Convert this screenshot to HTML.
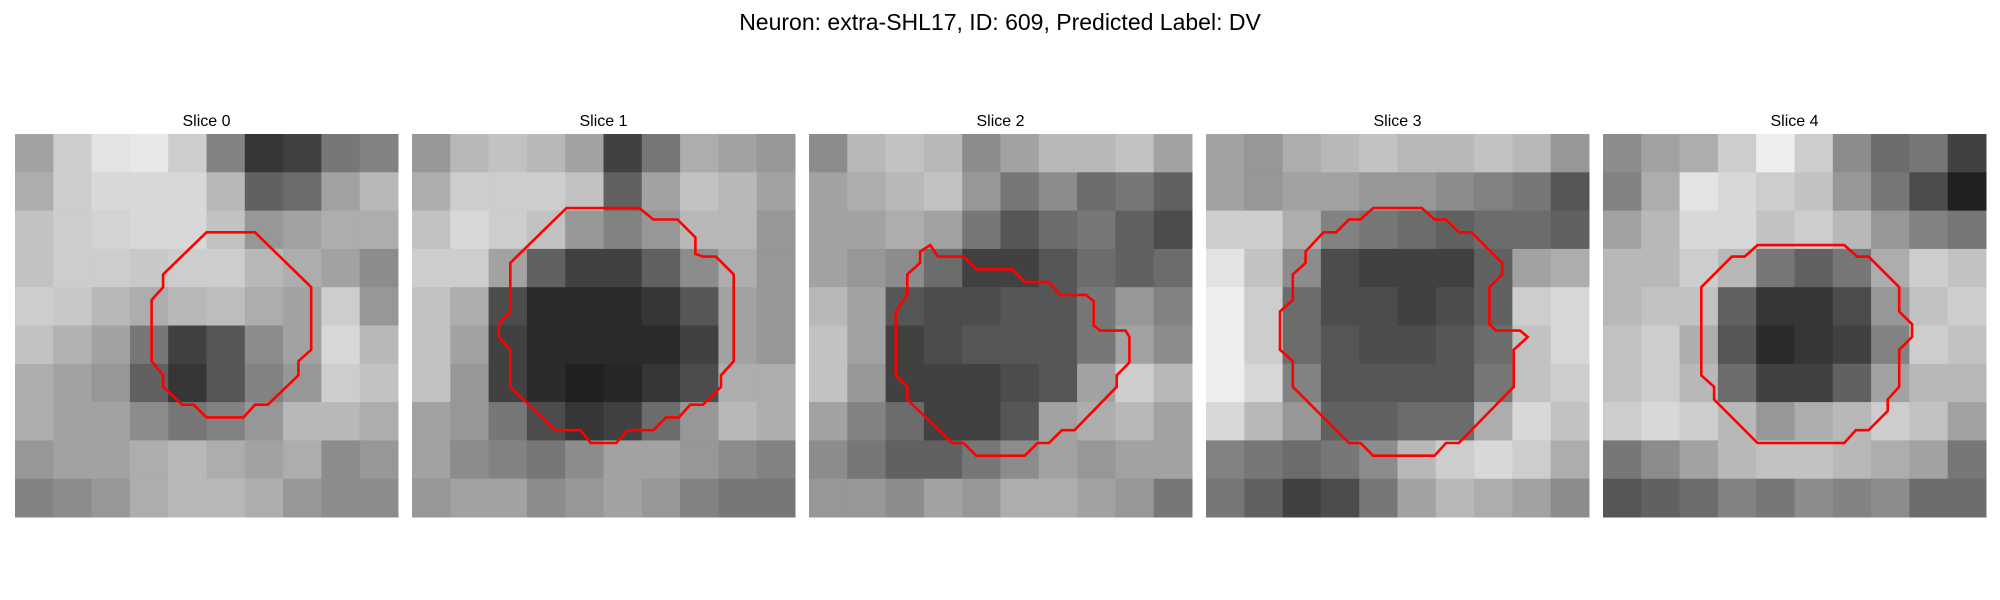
<!DOCTYPE html>
<html><head><meta charset="utf-8"><style>
html,body{margin:0;padding:0;background:#fff;width:2000px;height:600px;overflow:hidden}
svg{display:block;font-family:"Liberation Sans","DejaVu Sans",sans-serif}
</style></head><body>
<svg id="fig" width="2000" height="600" viewBox="0 0 2000 600">
<text x="1000" y="30" text-anchor="middle" font-size="23" fill="#000">Neuron: extra-SHL17, ID: 609, Predicted Label: DV</text>
</svg>
<script>
const sliceLabels = ["Slice 0","Slice 1","Slice 2","Slice 3","Slice 4"];
// coarse intensity grids (10x10 blocks, each 3x3 image pixels), 0=black 255=white
const slice0 = [
[150,190,210,215,190,120,50,60,110,120],[160,190,200,200,200,170,90,100,150,170],
[180,190,195,200,200,180,140,150,160,160],[180,190,190,185,190,190,170,160,150,130],
[190,185,170,160,170,175,160,150,190,140],[180,165,150,110,60,80,130,150,200,170],
[160,150,140,90,50,80,120,140,190,180],[160,150,150,130,110,120,140,170,170,160],
[140,150,150,160,170,160,150,160,130,140],[120,130,140,160,170,170,160,140,130,130]];
const slice1 = [
[140,170,180,170,150,60,110,160,150,140],[160,190,190,190,180,90,150,180,170,150],
[180,200,190,180,140,120,140,170,170,140],[190,190,150,90,60,60,90,130,160,140],
[180,160,70,40,40,40,50,80,150,140],[180,150,60,40,40,40,40,60,150,140],
[180,140,60,40,30,35,50,70,160,160],[150,140,110,70,50,60,100,140,170,160],
[150,130,120,110,130,150,150,140,130,120],[140,150,150,130,140,150,140,120,110,110]];
const slice2 = [
[130,170,180,170,130,150,170,170,180,150],[150,160,170,180,140,110,130,100,110,90],
[150,150,160,150,110,80,100,110,90,70],[150,140,130,100,60,60,80,100,90,100],
[170,150,80,70,70,80,80,110,140,120],[180,150,60,70,80,80,80,110,150,130],
[180,140,60,60,60,70,80,150,190,170],[150,120,100,60,60,80,150,160,170,150],
[130,110,90,90,110,130,150,140,150,150],[140,140,130,150,140,160,160,150,140,110]];
const slice3 = [
[150,140,160,170,180,170,170,180,170,140],[150,140,150,150,140,140,130,120,110,80],
[190,190,160,120,110,100,90,100,100,90],[210,180,130,70,60,60,60,90,150,160],
[220,190,100,70,70,60,70,90,190,200],[220,190,100,80,70,70,80,100,180,200],
[220,200,120,80,80,80,80,110,180,190],[200,170,140,90,90,100,100,160,200,180],
[120,110,100,110,130,170,190,200,190,160],[110,90,60,70,110,150,170,160,150,130]];
const slice4 = [
[130,150,160,190,220,190,130,100,110,60],[120,160,210,200,190,180,140,110,70,30],
[150,170,200,200,180,190,170,140,120,110],[170,170,190,170,110,90,110,160,190,180],
[170,180,180,90,50,50,70,140,180,190],[180,190,160,80,40,50,60,120,190,180],
[180,190,170,100,60,60,90,150,170,170],[190,200,190,170,140,160,170,190,180,150],
[110,130,150,170,180,180,170,160,150,110],[80,90,100,120,110,130,120,130,100,100]];
// contour vertices in image-pixel units (0..30)
const contour0 = [[15,7.7],[18.8,7.7],[23.2,12],[23.2,16.9],[22.2,17.8],[22.2,18.9],[19.8,21.2],[18.8,21.2],[17.9,22.2],[15,22.2],[14,21.2],[13.1,21.2],[11.6,19.8],[11.6,18.9],[10.7,17.8],[10.7,13],[11.6,12],[11.6,11]];
const contour1 = [[12.1,5.8],[17.8,5.8],[18.9,6.7],[20.8,6.7],[22.2,8.1],[22.2,9.4],[22.8,9.6],[23.8,9.6],[25.2,11],[25.2,17.8],[24.2,18.9],[24.2,19.8],[22.8,21.2],[21.8,21.2],[20.9,22.2],[19.9,22.2],[18.9,23.2],[16.9,23.2],[16,24.2],[14,24.2],[13.2,23.2],[11.2,23.2],[7.7,19.8],[7.7,16.9],[6.8,15.9],[6.8,14.9],[7.7,13.9],[7.7,10.1]];
const contour2 = [[9.5,8.7],[10.1,9.6],[12.1,9.6],[13.1,10.6],[15.9,10.6],[16.9,11.6],[18.8,11.6],[19.7,12.6],[21.7,12.6],[22.3,13.1],[22.3,15],[22.8,15.4],[24.8,15.4],[25.1,15.9],[25.1,17.9],[24.1,18.9],[24.1,19.8],[20.8,23.2],[19.8,23.2],[18.8,24.2],[17.9,24.2],[16.9,25.2],[13.1,25.2],[12.1,24.2],[11.2,24.2],[7.7,20.8],[7.7,19.8],[6.8,18.9],[6.8,13.9],[7.7,12.6],[7.7,11],[8.7,10.1],[8.7,9.2]];
const contour3 = [[13.1,5.8],[16.9,5.8],[17.9,6.7],[18.8,6.7],[19.8,7.7],[20.8,7.7],[23.2,10.1],[23.2,11],[22.2,12],[22.2,14.9],[22.7,15.4],[24.6,15.4],[25.2,15.9],[24.1,16.9],[24.1,19.8],[19.8,24.2],[18.8,24.2],[17.9,25.2],[13.1,25.2],[12.1,24.2],[11.2,24.2],[6.8,19.8],[6.8,17.8],[5.8,16.9],[5.8,13.9],[6.8,13],[6.8,11],[7.8,10.1],[7.8,9.2],[9.2,7.7],[10.2,7.7],[11.2,6.7],[12.1,6.7]];
const contour4 = [[12.1,8.7],[18.9,8.7],[19.9,9.6],[20.8,9.6],[23.2,12],[23.2,13.9],[24.2,14.9],[24.2,15.9],[23.2,16.9],[23.2,19.8],[22.3,20.8],[22.3,21.7],[20.8,23.2],[19.8,23.2],[18.9,24.2],[12.1,24.2],[8.7,20.8],[8.7,19.8],[7.7,18.9],[7.7,12],[10.1,9.6],[11.1,9.6]];

const grids=[slice0,slice1,slice2,slice3,slice4];
const contours=[contour0,contour1,contour2,contour3,contour4];
const NS="http://www.w3.org/2000/svg";
const svg=document.getElementById('fig');
const panelX0=15, panelStep=397, panelY=134, panelSize=383, imgPix=30;
function sx(p,v){return panelX0+p*panelStep+v/imgPix*panelSize;}
function sy(v){return panelY+v/imgPix*panelSize;}
function gray(v){return Math.max(0,Math.min(255,Math.round(v*1.08)));}
grids.forEach((g,p)=>{
  const grp=document.createElementNS(NS,'g');
  
  
  svg.appendChild(grp);
  const t=document.createElementNS(NS,'text');
  t.setAttribute('x',sx(p,15));t.setAttribute('y',126);
  t.setAttribute('text-anchor','middle');t.setAttribute('font-size','16');
  t.textContent=sliceLabels[p];
  
  
  grp.appendChild(t);
  const n=g.length, cs=imgPix/n;
  g.forEach((row,r)=>row.forEach((v,c)=>{
    const rc=document.createElementNS(NS,'rect');
    const x0=sx(p,c*cs),x1=sx(p,(c+1)*cs),y0=sy(r*cs),y1=sy((r+1)*cs);
    rc.setAttribute('x',x0);rc.setAttribute('y',y0);
    rc.setAttribute('width',x1-x0+0.5);rc.setAttribute('height',y1-y0+0.5);
    const gv=gray(v);
    rc.setAttribute('fill',`rgb(${gv},${gv},${gv})`);
    
    
    grp.appendChild(rc);
  }));
  const pl=document.createElementNS(NS,'polygon');
  pl.setAttribute('points',contours[p].map(q=>sx(p,q[0]).toFixed(1)+','+sy(q[1]).toFixed(1)).join(' '));
  pl.setAttribute('fill','none');pl.setAttribute('stroke','#ff0000');pl.setAttribute('stroke-width','2.6');
  
  
  grp.appendChild(pl);
});
</script>
</body></html>
